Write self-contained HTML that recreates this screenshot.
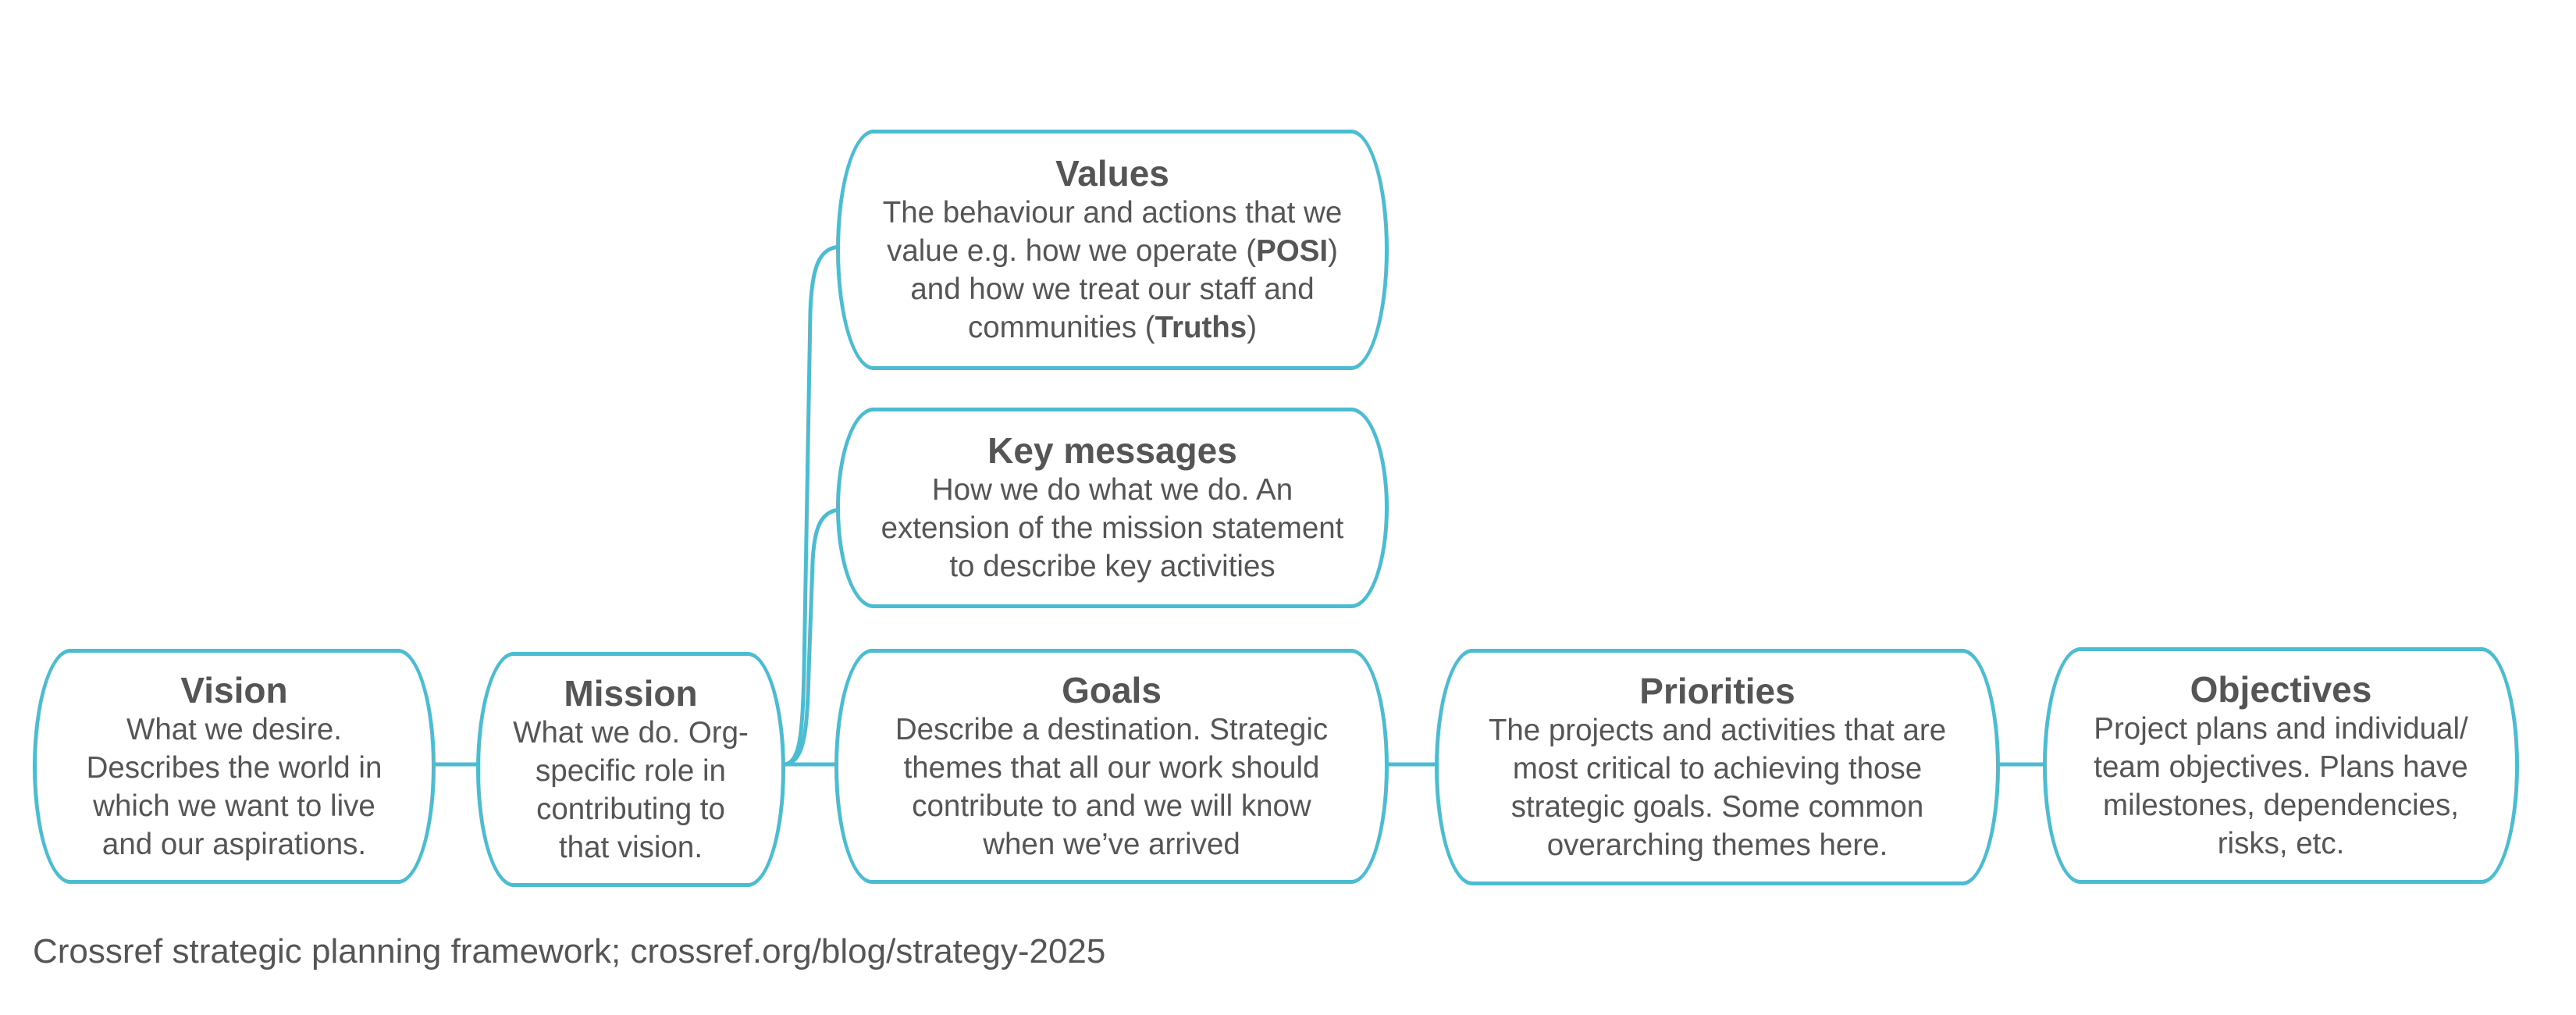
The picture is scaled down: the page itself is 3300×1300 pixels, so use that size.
<!DOCTYPE html>
<html><head><meta charset="utf-8"><style>
html,body{margin:0;padding:0;background:#fff;}
body{width:3300px;height:1300px;position:relative;overflow:hidden;font-family:"Liberation Sans",Arial,sans-serif;color:#555;}
.b{position:absolute;box-sizing:border-box;border:5px solid #4bbcd1;border-radius:48px/50%;display:flex;flex-direction:column;justify-content:center;align-items:center;text-align:center;background:#fff;}
.t{font-weight:bold;font-size:46px;line-height:52px;}
.d{font-size:38.5px;line-height:49px;white-space:nowrap;}
.cap{position:absolute;left:42px;top:1194px;font-size:44px;color:#555;white-space:nowrap;}
svg{position:absolute;left:0;top:0;}
</style></head><body>
<svg width="3300" height="1300">
<g stroke="#4bbcd1" stroke-width="5" fill="none">
<line x1="556" y1="979" x2="612" y2="979"/>
<line x1="1004" y1="979" x2="1071" y2="979"/>
<line x1="1777" y1="979" x2="1840" y2="979"/>
<line x1="2560" y1="979" x2="2619" y2="979"/>
<path d="M1006 979 C1025 975 1028 940 1030 860 L1038 400 C1040 340 1050 318 1075 316"/>
<path d="M1006 979 C1030 975 1034 940 1036 860 L1041 720 C1043 675 1052 655 1075 653"/>
</g>
</svg>
<div class="b" style="left:42px;top:831px;width:516px;height:301px;"><div class="t">Vision</div><div class="d">What we desire.<br>Describes the world in<br>which we want to live<br>and our aspirations.</div></div>
<div class="b" style="left:610px;top:835px;width:396px;height:301px;"><div class="t">Mission</div><div class="d">What we do. Org-<br>specific role in<br>contributing to<br>that vision.</div></div>
<div class="b" style="left:1071px;top:166px;width:708px;height:308px;"><div class="t">Values</div><div class="d">The behaviour and actions that we<br>value e.g. how we operate (<b>POSI</b>)<br>and how we treat our staff and<br>communities (<b>Truths</b>)</div></div>
<div class="b" style="left:1071px;top:522px;width:708px;height:257px;"><div class="t">Key messages</div><div class="d">How we do what we do. An<br>extension of the mission statement<br>to describe key activities</div></div>
<div class="b" style="left:1069px;top:831px;width:710px;height:301px;"><div class="t">Goals</div><div class="d">Describe a destination. Strategic<br>themes that all our work should<br>contribute to and we will know<br>when we’ve arrived</div></div>
<div class="b" style="left:1838px;top:831px;width:724px;height:303px;"><div class="t">Priorities</div><div class="d">The projects and activities that are<br>most critical to achieving those<br>strategic goals. Some common<br>overarching themes here.</div></div>
<div class="b" style="left:2617px;top:829px;width:610px;height:303px;"><div class="t">Objectives</div><div class="d">Project plans and individual/<br>team objectives. Plans have<br>milestones, dependencies,<br>risks, etc.</div></div>
<div class="cap">Crossref strategic planning framework; crossref.org/blog/strategy-2025</div>
</body></html>
